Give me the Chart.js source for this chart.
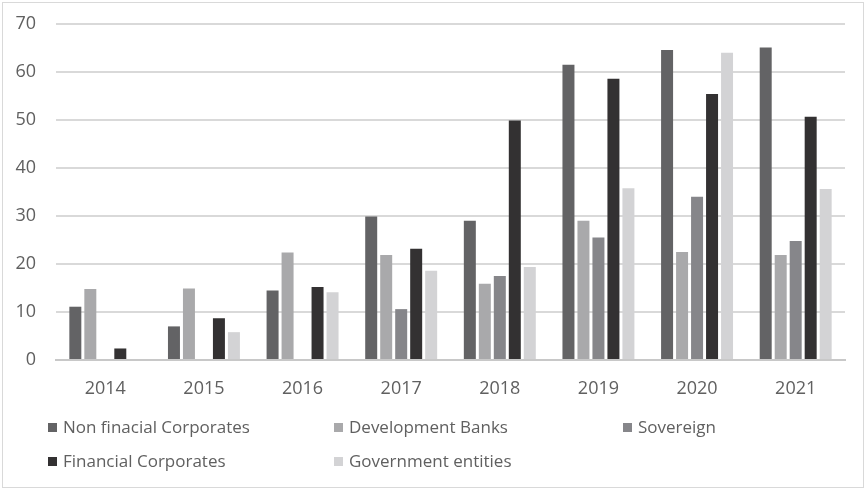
<!DOCTYPE html>
<html>
<head>
<meta charset="utf-8">
<script src="https://cdn.jsdelivr.net/npm/chart.js@4/dist/chart.umd.min.js"></script>
<style>
  html, body { margin: 0; padding: 0; background: #fff; }
  #wrap { width: 866px; height: 490px; }
</style>
</head>
<body>
<div id="wrap"><canvas id="bondChart" width="866" height="490"></canvas></div>
<script>
const years = ["2014", "2015", "2016", "2017", "2018", "2019", "2020", "2021"];
const nonFinancialCorporates = [11.1, 7.0, 14.5, 29.9, 29.0, 61.5, 64.6, 65.1];
const developmentBanks = [14.8, 14.9, 22.4, 21.9, 15.9, 29.0, 22.5, 21.9];
const sovereign = [0, 0, 0, 10.6, 17.5, 25.5, 34.0, 24.8];
const financialCorporates = [2.4, 8.7, 15.2, 23.2, 49.9, 58.6, 55.4, 50.7];
const governmentEntities = [0, 5.8, 14.1, 18.6, 19.4, 35.8, 64.0, 35.6];
const yTicks = [0, 10, 20, 30, 40, 50, 60, 70];

const seriesNames = ["Non finacial Corporates", "Development Banks", "Sovereign", "Financial Corporates", "Government entities"];
const seriesColors = ["#636365", "#a9a9ab", "#86868a", "#333132", "#d3d3d5"];
const seriesValues = [nonFinancialCorporates, developmentBanks, sovereign, financialCorporates, governmentEntities];

const textColor = "#606060";
const gridColor = "#d9d9d9";

// legend laid out as a 3-column grid under the axis
const legendGrid = {
    id: "legendGrid",
    afterDraw(chart) {
        const ctx = chart.ctx;
        const cols = [48, 334, 623];
        const rows = [428, 462];
        ctx.save();
        ctx.font = "17px 'Open Sans'";
        ctx.textBaseline = "middle";
        chart.data.datasets.forEach((ds, i) => {
            const x = cols[i % 3];
            const y = rows[Math.floor(i / 3)];
            ctx.fillStyle = ds.backgroundColor;
            ctx.fillRect(x, y - 5, 9, 9);
            ctx.fillStyle = textColor;
            ctx.fillText(ds.label, x + 15, y);
        });
        ctx.restore();
    }
};

// thin frame around the whole chart
const frame = {
    id: "frame",
    beforeDraw(chart) {
        const ctx = chart.ctx;
        ctx.save();
        ctx.strokeStyle = gridColor;
        ctx.lineWidth = 1;
        ctx.strokeRect(2.5, 2.5, 861, 485);
        ctx.restore();
    }
};

const ctx = document.getElementById("bondChart").getContext("2d");
new Chart(ctx, {
    type: "bar",
    data: {
        labels: years,
        datasets: seriesNames.map((name, i) => ({
            label: name,
            data: seriesValues[i],
            backgroundColor: seriesColors[i],
            borderWidth: 0,
            barPercentage: 0.8,
            categoryPercentage: 0.76
        }))
    },
    options: {
        responsive: false,
        animation: false,
        layout: { padding: { left: 0, right: 21, top: 24, bottom: 85 } },
        plugins: {
            legend: { display: false },
            tooltip: { enabled: false }
        },
        scales: {
            x: {
                grid: { display: false, drawTicks: false },
                border: { color: "#c8c8c8", width: 2 },
                ticks: { color: textColor, font: { family: "'Open Sans'", size: 18 }, padding: 18 },
                afterFit(scale) { scale.height = 45; }
            },
            y: {
                min: 0,
                max: 70,
                afterBuildTicks(scale) { scale.ticks = yTicks.map(v => ({ value: v })); },
                grid: { color: gridColor, lineWidth: 2, drawTicks: false },
                border: { display: false },
                ticks: { color: textColor, font: { family: "'Open Sans'", size: 18 }, padding: 20 },
                afterFit(scale) {
                    scale.width = 56;
                    scale.paddingTop = 0;
                    scale.paddingBottom = 0;
                }
            }
        }
    },
    plugins: [frame, legendGrid]
});
</script>
</body>
</html>
